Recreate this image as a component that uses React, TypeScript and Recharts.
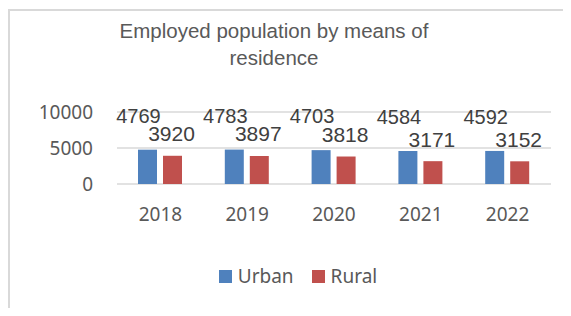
import { BarChart, Bar, XAxis, YAxis, CartesianGrid, Legend, LabelList } from "recharts";

const years = ["2018", "2019", "2020", "2021", "2022"];
const urban = [4769, 4783, 4703, 4584, 4592];
const rural = [3920, 3897, 3818, 3171, 3152];
const yTicks = [0, 5000, 10000];

const data = years.map((year, i) => ({ year, urban: urban[i], rural: rural[i] }));

const GREY = "#595959";
const LABEL = "#404040";
const URBAN_COLOR = "#4f81bd";
const RURAL_COLOR = "#c0504d";

function makeLabel(dx: number, dy: number, size: number) {
  return (props: any) => {
    const { x, y, width, value } = props;
    return (
      <text
        x={Number(x) + Number(width) / 2 + dx}
        y={Number(y) + dy}
        textAnchor="middle"
        dominantBaseline="central"
        fontSize={size}
        fontFamily="'Liberation Sans', Arial, sans-serif"
        fill={LABEL}
      >
        {value}
      </text>
    );
  };
}

const XTick = (props: any) => {
  const { x, y, payload } = props;
  return (
    <text x={x} y={Number(y) + 22} textAnchor="middle" dominantBaseline="central" fontSize={19} fontFamily="'Noto Sans', sans-serif" fill={GREY}>
      {payload.value}
    </text>
  );
};

const LegendContent = () => (
  <div style={{ display: "flex", justifyContent: "center", alignItems: "center", paddingLeft: 25, fontFamily: "'Noto Sans', sans-serif", fontSize: 19, color: GREY }}>
    <span style={{ width: 13, height: 13, background: URBAN_COLOR, display: "inline-block", marginRight: 6 }} />
    <span style={{ marginRight: 18 }}>Urban</span>
    <span style={{ width: 13, height: 13, background: RURAL_COLOR, display: "inline-block", marginRight: 6 }} />
    <span>Rural</span>
  </div>
);

export default function App() {
  return (
    <div style={{ position: "relative", width: 571, height: 316, margin: -8, overflow: "hidden", background: "#fff" }}>
      <div style={{ position: "absolute", left: 8, top: 9, width: 620, height: 400, borderLeft: "2px solid #d9d9d9", borderTop: "2px solid #d9d9d9" }} />
      <div
        style={{
          position: "absolute",
          left: 274 - 170,
          top: 17,
          width: 340,
          textAlign: "center",
          fontFamily: "'Liberation Sans', Arial, sans-serif",
          fontSize: 20.5,
          lineHeight: "27px",
          color: GREY,
        }}
      >
        Employed population by means of
        <br />
        residence
      </div>
      <div style={{ position: "absolute", left: 0, top: 0 }}>
        <BarChart width={571} height={316} data={data} margin={{ top: 112, right: 20, left: 0, bottom: 13 }} barSize={19} barGap={6}>
          <CartesianGrid horizontal vertical={false} stroke="#d9d9d9" strokeWidth={1.5} />
          <XAxis dataKey="year" axisLine={false} tickLine={false} height={79} tick={<XTick />} interval={0} />
          <YAxis
            domain={[0, 10000]}
            ticks={yTicks}
            width={117}
            axisLine={false}
            tickLine={false}
            tickMargin={18}
            tick={{ fontSize: 19, fill: GREY, fontFamily: "'Noto Sans', sans-serif" }}
          />
          <Legend verticalAlign="bottom" height={40} content={<LegendContent />} wrapperStyle={{ left: 0, width: 571 }} />
          <Bar dataKey="urban" name="Urban" fill={URBAN_COLOR} isAnimationActive={false}>
            <LabelList dataKey="urban" content={makeLabel(-9, -34, 20)} />
          </Bar>
          <Bar dataKey="rural" name="Rural" fill={RURAL_COLOR} isAnimationActive={false}>
            <LabelList dataKey="rural" content={makeLabel(-1, -22, 21)} />
          </Bar>
        </BarChart>
      </div>
    </div>
  );
}
